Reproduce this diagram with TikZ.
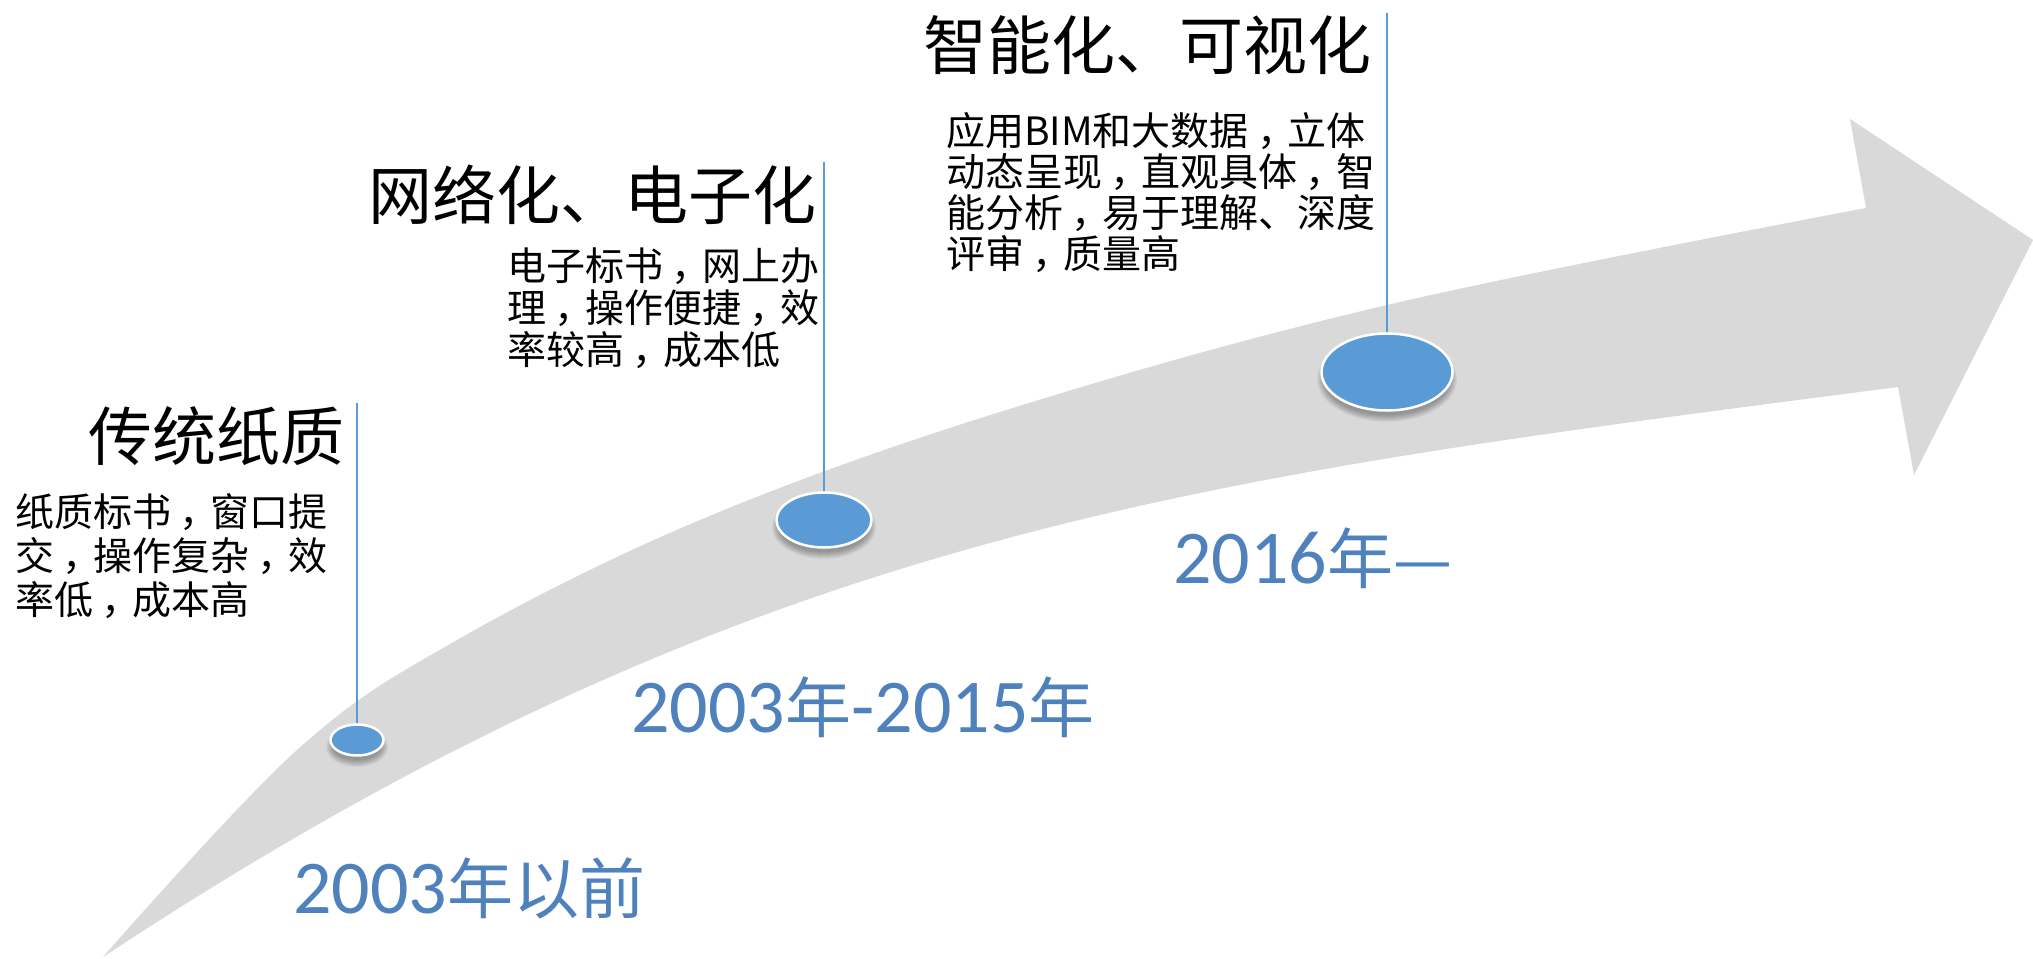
\documentclass[tikz,border=0pt]{standalone}
\usepackage{fontspec}
\setmainfont{Noto Sans CJK SC}
\newfontfamily\cjk{Noto Sans CJK SC}
\newfontfamily\carl{Carlito}
\usetikzlibrary{shapes.geometric}
\definecolor{arrowgray}{HTML}{D9D9D9}
\definecolor{dotblue}{HTML}{5B9BD5}
\definecolor{yearblue}{HTML}{4F81BD}
\definecolor{lineblue}{HTML}{5B9BD5}
\newcommand\zc{\makebox[1em][l]{\hspace{0.22em}，}}
\begin{document}
\begin{tikzpicture}[x=1pt,y=-1pt,
  dot/.style={ellipse, fill=dotblue, draw=white, line width=2.5pt, inner sep=0pt},
  vline/.style={draw=lineblue, line width=1.3pt},
  head/.style={font=\fontsize{64}{70}\selectfont, inner sep=0pt, text=black},
  body/.style={font=\fontsize{39}{44}\selectfont, inner sep=0pt, align=left, anchor=north west, text=black},
  year/.style={font=\fontsize{66}{70}\selectfont, inner sep=0pt, anchor=base west, text=yearblue}]
\useasboundingbox (0,0) rectangle (2033,958);
\fill[white] (0,0) rectangle (2033,958);
% big curved arrow
\fill[arrowgray] (103,957)
  -- plot[smooth, tension=0.6] coordinates {(103,957) (297,750) (457,640) (700,520) (1000,412) (1387,305) (1866,208)}
  -- (1850,119) -- (2033,240) -- (1914,475) -- (1898,387)
  .. controls (1198,478) and (753,528) .. (103,957)
  -- cycle;
% soft shadows under the dots
\foreach \cx/\cy/\rx/\ry in {357/740/26/15, 824/520/47/27, 1387/372/65/38} {
  \foreach \k in {0,...,7}
    \fill[black, opacity=0.045] (\cx,\cy+7) ellipse [x radius=\rx+5-\k, y radius=\ry+5-\k];
}
% dots
\node[dot, minimum width=53pt, minimum height=31pt] (e1) at (357,740) {};
\node[dot, minimum width=95pt, minimum height=55pt] (e2) at (824,520) {};
\node[dot, minimum width=131pt, minimum height=77pt] (e3) at (1387,372) {};
% leader lines
\coordinate (t1) at (357,403);
\coordinate (t2) at (824,162);
\coordinate (t3) at (1387,13);
\draw[vline] (t1) -- (e1.north);
\draw[vline] (t2) -- (e2.north);
\draw[vline] (t3) -- (e3.north);
% headings
\node[head] (h1) at (216,436) {传统纸质};
\node[head] (h2) at (592,195) {网络化、电子化};
\node[head] (h3) at (1147,45) {智能化、可视化};
% bodies
\node[body] (b1) at (15,493) {纸质标书\zc 窗口提\\交\zc 操作复杂\zc 效\\率低\zc 成本高};
\node[body, font=\fontsize{39}{42}\selectfont] (b2) at (507,248) {电子标书\zc 网上办\\理\zc 操作便捷\zc 效\\率较高\zc 成本低};
\node[body, font=\fontsize{39}{41}\selectfont] (b3) at (946,112) {应用BIM和大数据\zc 立体\\动态呈现\zc 直观具体\zc 智\\能分析\zc 易于理解、深度\\评审\zc 质量高};
% years
\node[year] (y1) at (293,913) {{\carl\fontsize{76}{80}\selectfont 2003}年以前};
\node[year] (y2) at (631,732) {{\carl\fontsize{76}{80}\selectfont 2003}年{\carl\fontsize{76}{80}\selectfont -2015}年};
\node[year] (y3) at (1173,583) {{\carl\fontsize{76}{80}\selectfont 2016}年—};
\end{tikzpicture}
\end{document}
